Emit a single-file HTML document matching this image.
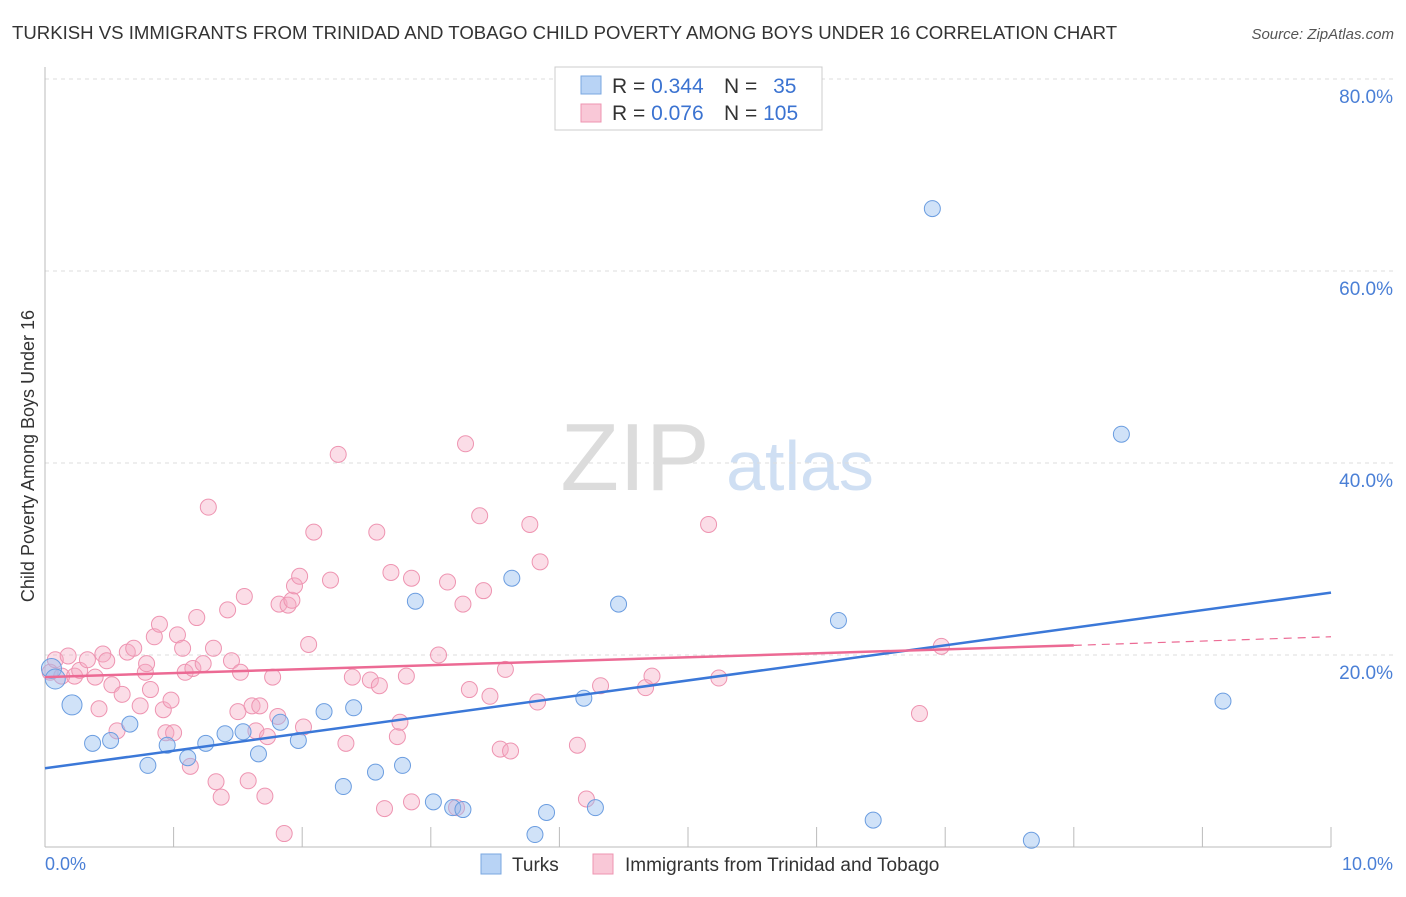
<!DOCTYPE html>
<html><head><meta charset="utf-8"><style>
body{margin:0;background:#fff;font-family:"Liberation Sans",sans-serif;}
svg text{font-family:"Liberation Sans",sans-serif;}
</style></head><body>
<svg id="chart" width="1406" height="892" viewBox="0 0 1406 892" xmlns="http://www.w3.org/2000/svg">
<text x="12" y="39" font-size="18.6" fill="#333">TURKISH VS IMMIGRANTS FROM TRINIDAD AND TOBAGO CHILD POVERTY AMONG BOYS UNDER 16 CORRELATION CHART</text>
<text x="1394" y="39" font-size="15" fill="#555" text-anchor="end" font-style="italic">Source: ZipAtlas.com</text>
<g>
<text x="635" y="490" font-size="96" fill="#dcdcdc" text-anchor="middle" font-family="Liberation Serif,serif">ZIP</text>
<text x="800" y="490" font-size="70" fill="#cfdff3" text-anchor="middle">atlas</text>
</g>
<g id="grid"></g>
<g id="axes"></g>
<g id="pink"></g>
<g id="blue"></g>
<g id="lines"></g>
<text transform="translate(34,456) rotate(-90)" font-size="18" fill="#333" text-anchor="middle">Child Poverty Among Boys Under 16</text>
<text x="45" y="870" font-size="18" fill="#4a7fd6">0.0%</text>
<text x="1393" y="870" font-size="18" fill="#4a7fd6" text-anchor="end">10.0%</text>
<g>
<rect x="555" y="67" width="267" height="63" fill="#fff" stroke="#ccc"/>
<rect x="581" y="76" width="20" height="18" fill="#b8d3f5" stroke="#7aa7e0"/>
<rect x="581" y="104" width="20" height="18" fill="#f9c8d7" stroke="#ee94b1"/>
<text x="612" y="93" font-size="21" fill="#333">R = <tspan fill="#3b73d1">0.344</tspan></text>
<text x="724" y="93" font-size="21" fill="#333">N = <tspan fill="#3b73d1" dx="10">35</tspan></text>
<text x="612" y="120" font-size="21" fill="#333">R = <tspan fill="#3b73d1">0.076</tspan></text>
<text x="724" y="120" font-size="21" fill="#333">N = <tspan fill="#3b73d1">105</tspan></text>
</g>
<g>
<rect x="481" y="854" width="20" height="20" fill="#b8d3f5" stroke="#7aa7e0"/>
<text x="512" y="871" font-size="19" fill="#333">Turks</text>
<rect x="593" y="854" width="20" height="20" fill="#f9c8d7" stroke="#ee94b1"/>
<text x="625" y="871" font-size="19" fill="#333">Immigrants from Trinidad and Tobago</text>
</g>
</svg>
<script>
const yTicks=[20,40,60,80];
const xTicks=[0,1,2,3,4,5,6,7,8,9,10];
const blueX=[0.05,0.08,0.21,0.37,0.51,0.66,0.8,0.95,1.11,1.25,1.4,1.54,1.66,1.83,1.97,2.17,2.32,2.4,2.57,2.78,2.88,3.02,3.17,3.25,3.63,3.81,3.9,4.19,4.28,4.46,6.17,6.44,6.9,7.67,8.37,9.16];
const blueY=[18.6,17.5,14.8,10.8,11.1,12.8,8.5,10.6,9.3,10.8,11.8,12.0,9.7,13.0,11.1,14.1,6.3,14.5,7.8,8.5,25.6,4.7,4.1,3.9,28.0,1.3,3.6,15.5,4.1,25.3,23.6,2.8,66.5,0.7,43.0,15.2];
const pinkX=[0.04,0.08,0.13,0.18,0.23,0.27,0.33,0.39,0.42,0.45,0.48,0.52,0.56,0.60,0.64,0.69,0.74,0.78,0.79,0.82,0.85,0.89,0.92,0.94,0.98,1.00,1.03,1.07,1.09,1.13,1.15,1.18,1.23,1.27,1.31,1.33,1.37,1.42,1.45,1.50,1.52,1.55,1.58,1.61,1.64,1.67,1.71,1.73,1.77,1.81,1.82,1.86,1.89,1.92,1.94,1.98,2.01,2.05,2.09,2.22,2.28,2.34,2.39,2.53,2.58,2.60,2.64,2.69,2.74,2.76,2.81,2.85,2.85,3.06,3.13,3.20,3.25,3.27,3.30,3.38,3.41,3.46,3.54,3.58,3.62,3.77,3.83,3.85,4.14,4.21,4.32,4.67,4.72,5.16,5.24,6.80,6.97];
const pinkY=[18.2,19.5,17.8,19.9,17.8,18.4,19.5,17.7,14.4,20.1,19.4,16.9,12.1,15.9,20.3,20.7,14.7,18.2,19.1,16.4,21.9,23.2,14.3,11.9,15.3,11.9,22.1,20.7,18.2,8.4,18.6,23.9,19.1,35.4,20.7,6.8,5.2,24.7,19.4,14.1,18.2,26.1,6.9,14.7,12.1,14.7,5.3,11.5,17.7,13.6,25.3,1.4,25.2,25.7,27.2,28.2,12.5,21.1,32.8,27.8,40.9,10.8,17.7,17.4,32.8,16.8,4.0,28.6,11.5,13.0,17.8,28.0,4.7,20.0,27.6,4.1,25.3,42.0,16.4,34.5,26.7,15.7,10.2,18.5,10.0,33.6,15.1,29.7,10.6,5.0,16.8,16.6,17.8,33.6,17.6,13.9,20.9];
const blueLine=[8.2,26.5];
const pinkLine=[17.7,21.0,21.9];
const X0=45,X1=1331,Y0=847,PY=9.6;
const xs=v=>X0+(X1-X0)*v/10, ys=v=>Y0-v*PY;
const NS='http://www.w3.org/2000/svg';
function mk(tag,attrs,parent){const e=document.createElementNS(NS,tag);for(const k in attrs)e.setAttribute(k,attrs[k]);document.getElementById(parent).appendChild(e);return e;}
yTicks.forEach(t=>{
 const l=mk('line',{x1:45,x2:1393,y1:ys(t),y2:ys(t),stroke:'#ddd','stroke-dasharray':'4,4'},'grid');
 
 
 const tx=mk('text',{x:1393,y:ys(t)+24,'font-size':19,fill:'#4a7fd6','text-anchor':'end'},'grid');
 tx.textContent=t.toFixed(1)+'%';
 
 
});
let ax=mk('line',{x1:45,x2:45,y1:67,y2:847,stroke:'#bbb'},'axes');


ax=mk('line',{x1:45,x2:1331,y1:847,y2:847,stroke:'#bbb'},'axes');


xTicks.forEach(t=>{
 const l=mk('line',{x1:xs(t),x2:xs(t),y1:827,y2:847,stroke:'#bbb'},'axes');
 
 
});
pinkX.forEach((x,i)=>{
 const c=mk('circle',{cx:xs(x),cy:ys(pinkY[i]),r:8,fill:'rgba(246,170,195,0.4)',stroke:'#ee94b1','stroke-width':1},'pink');
 
 
});
blueX.forEach((x,i)=>{
 const c=mk('circle',{cx:xs(x),cy:ys(blueY[i]),r:(i<3?10:8),fill:'rgba(150,190,240,0.45)',stroke:'#6b9de0','stroke-width':1},'blue');
 
 
});
let tl=mk('line',{x1:xs(0),y1:ys(blueLine[0]),x2:xs(10),y2:ys(blueLine[1]),stroke:'#3b78d8','stroke-width':2.5},'lines');


tl=mk('line',{x1:xs(0),y1:ys(pinkLine[0]),x2:xs(8),y2:ys(pinkLine[1]),stroke:'#ec6a94','stroke-width':2.5},'lines');


tl=mk('line',{x1:xs(8),y1:ys(pinkLine[1]),x2:xs(10),y2:ys(pinkLine[2]),stroke:'#ec6a94','stroke-width':1.2,'stroke-dasharray':'8,6'},'lines');


</script>
</body></html>
